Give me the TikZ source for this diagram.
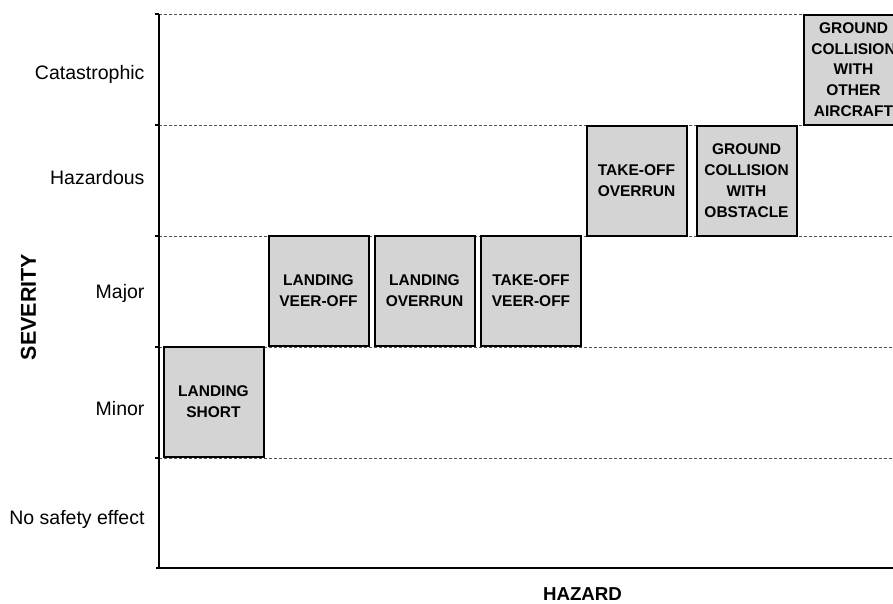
\documentclass[tikz,border=0pt]{standalone}
\usepackage{fontspec}
\setmainfont{Liberation Sans}
\begin{document}
\begin{tikzpicture}[x=1pt,y=-1pt,
  hbox/.style={draw=black, line width=2pt, fill=boxgray, align=center,
    minimum width=100pt, minimum height=110pt, inner sep=0pt,
    font=\bfseries\fontsize{15.5}{20.8}\selectfont},
  lvl/.style={anchor=base east, font=\fontsize{19.5}{23}\selectfont},
  grid/.style={draw=dashgray, line width=1pt, dash pattern=on 3pt off 2pt},
  axis/.style={draw=black, line width=2pt},
  tick/.style={draw=black, line width=1.5pt}
]
\definecolor{boxgray}{HTML}{D4D4D4}
\definecolor{dashgray}{HTML}{505050}
\useasboundingbox (0,0) rectangle (893,603);
\clip (0,0) rectangle (893,603);
% axis coordinates
\coordinate (ytop) at (159,14);
\coordinate (orig) at (159,568);
\coordinate (xend) at (893,568);
% dashed level lines
\foreach \yy in {14,125,236,347,458} {
  \coordinate (l\yy) at (159,\yy);
  \coordinate (r\yy) at (893,\yy);
  \draw[grid] (l\yy) -- (r\yy);
  \coordinate (t\yy) at (155,\yy);
  \draw[tick] (t\yy) -- (l\yy);
}
\draw[axis] (ytop) -- (orig);
\coordinate (xstart) at (156,568);
\draw[axis] (xstart) -- (xend);
% boxes
\node[hbox] (ls) at (213.5,402) {LANDING\\SHORT};
\node[hbox] (lv) at (318.5,291) {LANDING\\VEER-OFF};
\node[hbox] (lo) at (424.5,291) {LANDING\\OVERRUN};
\node[hbox] (tv) at (531,291) {TAKE-OFF\\VEER-OFF};
\node[hbox] (to) at (636.5,180.5) {TAKE-OFF\\OVERRUN};
\node[hbox] (go) at (746.5,180.5) {GROUND\\COLLISION\\WITH\\OBSTACLE};
\node[hbox] (ga) at (853.5,69.5) {GROUND\\COLLISION\\WITH\\OTHER\\AIRCRAFT};
% level labels
\node[lvl] (cat) at (148,79) {Catastrophic};
\node[lvl] (haz) at (148,184) {Hazardous};
\node[lvl] (maj) at (148,298) {Major};
\node[lvl] (min) at (148,415) {Minor};
\node[lvl] (nse) at (148,524) {No safety effect};
% axis titles
\node[rotate=90, font=\bfseries\fontsize{21.5}{24}\selectfont] (sev) at (28.5,307) {SEVERITY};
\node[anchor=base, inner ysep=1pt, font=\bfseries\fontsize{18.7}{22}\selectfont] (hzd) at (582.5,600.5) {HAZARD};
\end{tikzpicture}
\end{document}
